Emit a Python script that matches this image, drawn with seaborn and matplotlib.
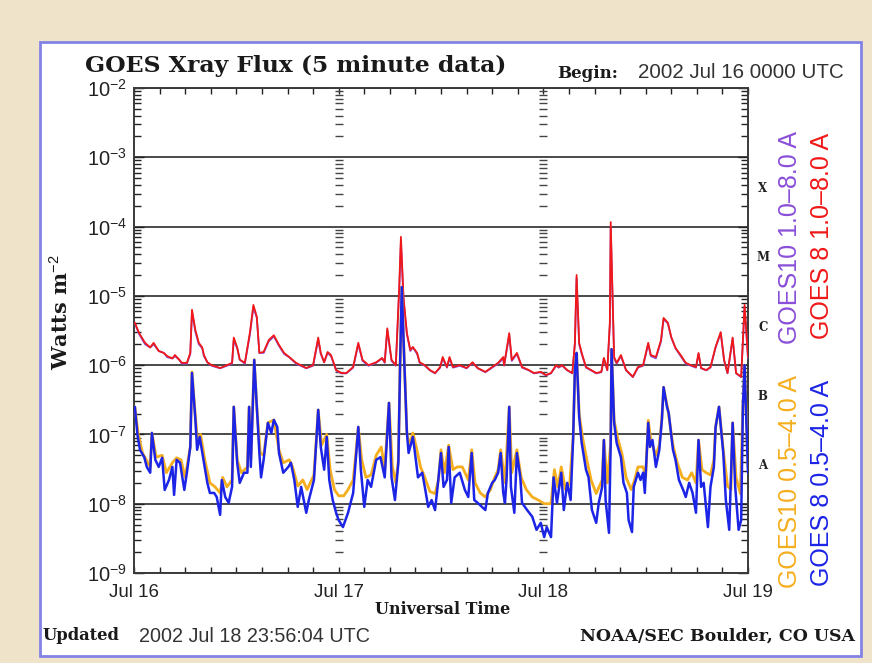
import numpy as np
import pandas as pd
import matplotlib
matplotlib.use("Agg")
import matplotlib.pyplot as plt
import matplotlib.ticker as mticker
import matplotlib.transforms as mtrans
from matplotlib.patches import Rectangle
import seaborn as sns

# ---------------- data (hours since 2002 Jul 16 00 UT, flux in W m^-2) ----------------
long_hours = [
    0.1, 0.6, 1.3, 1.9, 2.3, 2.9, 3.5, 3.9, 4.5, 4.8,
    5.3, 5.6, 6.2, 6.6, 6.8, 7.2, 7.6, 8.0, 8.2, 8.6,
    9.1, 10.1, 10.9, 11.5, 11.7, 12.1, 12.4, 13.0, 13.6, 14.0,
    14.4, 14.7, 15.2, 15.8, 16.4, 17.0, 17.6, 18.2, 19.0, 20.2,
    21.0, 21.6, 21.9, 22.3, 22.7, 23.1, 23.7, 24.3, 24.9, 25.7,
    26.3, 26.8, 27.5, 28.4, 29.1, 29.4, 29.7, 30.2, 30.7, 31.1,
    31.3, 31.6, 32.0, 32.4, 32.7, 33.2, 33.5, 34.1, 34.7, 35.3,
    35.9, 36.2, 36.7, 37.0, 37.4, 38.2, 39.0, 39.7, 40.3, 41.2,
    42.0, 42.7, 43.3, 43.4, 44.0, 44.3, 44.9, 45.5, 46.3, 46.9,
    47.7, 48.3, 48.9, 49.5, 49.8, 50.2, 50.8, 51.4, 51.7, 51.9,
    52.2, 52.5, 53.0, 53.6, 54.2, 54.8, 55.1, 55.5, 55.8, 55.9,
    56.3, 56.6, 57.1, 57.7, 58.5, 59.1, 59.7, 60.3, 60.6, 61.2,
    61.8, 62.1, 62.6, 63.0, 63.5, 64.1, 64.7, 65.3, 65.9, 66.2,
    66.5, 67.1, 67.6, 68.2, 68.8, 69.2, 69.6, 70.2, 70.6, 71.2,
    71.6, 72.0,
]
goes8_long = [
    4.1e-6, 2.9e-6, 2.1e-6, 1.8e-6, 2.1e-6, 1.6e-6, 1.5e-6, 1.35e-6, 1.25e-6, 1.4e-6,
    1.2e-6, 1.08e-6, 1.08e-6, 1.5e-6, 6.3e-6, 3.2e-6, 2.1e-6, 1.8e-6, 1.4e-6, 1.1e-6,
    1.0e-6, 9.1e-7, 1.0e-6, 1.08e-6, 2.5e-6, 1.8e-6, 1.2e-6, 1.08e-6, 3.0e-6, 7.4e-6,
    5.0e-6, 1.5e-6, 1.55e-6, 2.3e-6, 2.7e-6, 1.96e-6, 1.5e-6, 1.31e-6, 1.08e-6, 9.1e-7,
    1.0e-6, 2.5e-6, 1.5e-6, 1.1e-6, 1.55e-6, 1.4e-6, 8.5e-7, 7.7e-7, 7.7e-7, 9.4e-7,
    2.1e-6, 1.19e-6, 1.0e-6, 1.1e-6, 1.27e-6, 1.1e-6, 3.4e-6, 1.19e-6, 1.0e-6, 1.34e-5,
    7.1e-5, 9.6e-6, 2.9e-6, 1.66e-6, 1.83e-6, 1.5e-6, 1.1e-6, 1.0e-6, 8.5e-7, 7.7e-7,
    9.4e-7, 1.31e-6, 9.4e-7, 1.31e-6, 9.4e-7, 1.0e-6, 9.1e-7, 1.1e-6, 9.1e-7, 8.0e-7,
    9.4e-7, 1.08e-6, 1.31e-6, 1.0e-6, 2.9e-6, 1.19e-6, 1.5e-6, 9.4e-7, 8.5e-7, 7.7e-7,
    8.0e-7, 7.2e-7, 7.7e-7, 1.0e-6, 9.4e-7, 1.0e-6, 8.5e-7, 7.7e-7, 2.1e-6, 2.0e-5,
    2.1e-6, 1.5e-6, 9.4e-7, 8.5e-7, 7.7e-7, 8.0e-7, 1.27e-6, 8.5e-7, 4.1e-6, 1.16e-4,
    1.31e-6, 1.08e-6, 1.4e-6, 8.5e-7, 6.8e-7, 9.4e-7, 1.0e-6, 2.1e-6, 1.4e-6, 1.31e-6,
    2.3e-6, 4.8e-6, 4.1e-6, 2.55e-6, 1.77e-6, 1.4e-6, 1.08e-6, 1.0e-6, 9.4e-7, 1.5e-6,
    9.1e-7, 8.5e-7, 9.4e-7, 1.83e-6, 3.0e-6, 1.19e-6, 7.7e-7, 2.5e-6, 7.7e-7, 6.8e-7,
    7.4e-6, 1.31e-6,
]
goes10_long = [
    4.0e-6, 2.8e-6, 2.0e-6, 1.8e-6, 2.0e-6, 1.6e-6, 1.5e-6, 1.3e-6, 1.25e-6, 1.35e-6,
    1.2e-6, 1.05e-6, 1.05e-6, 1.45e-6, 5.8e-6, 3.0e-6, 2.0e-6, 1.75e-6, 1.35e-6, 1.1e-6,
    9.8e-7, 9.0e-7, 9.8e-7, 1.05e-6, 2.3e-6, 1.75e-6, 1.2e-6, 1.05e-6, 2.8e-6, 6.8e-6,
    4.8e-6, 1.5e-6, 1.5e-6, 2.2e-6, 2.6e-6, 1.9e-6, 1.45e-6, 1.3e-6, 1.05e-6, 9.0e-7,
    9.8e-7, 2.3e-6, 1.45e-6, 1.1e-6, 1.5e-6, 1.35e-6, 8.4e-7, 7.6e-7, 7.6e-7, 9.2e-7,
    2.0e-6, 1.15e-6, 9.8e-7, 1.08e-6, 1.25e-6, 1.08e-6, 3.2e-6, 1.15e-6, 9.8e-7, 1.2e-5,
    6.0e-5, 9.0e-6, 2.8e-6, 1.6e-6, 1.8e-6, 1.45e-6, 1.08e-6, 9.8e-7, 8.4e-7, 7.6e-7,
    9.2e-7, 1.25e-6, 9.2e-7, 1.25e-6, 9.2e-7, 9.8e-7, 9.0e-7, 1.08e-6, 9.0e-7, 7.9e-7,
    9.2e-7, 1.05e-6, 1.25e-6, 9.8e-7, 2.7e-6, 1.15e-6, 1.45e-6, 9.2e-7, 8.4e-7, 7.6e-7,
    7.9e-7, 7.1e-7, 7.6e-7, 9.8e-7, 9.2e-7, 9.8e-7, 8.4e-7, 7.6e-7, 2.0e-6, 1.8e-5,
    2.0e-6, 1.45e-6, 9.2e-7, 8.4e-7, 7.6e-7, 7.9e-7, 1.25e-6, 8.4e-7, 3.8e-6, 1.0e-4,
    1.25e-6, 1.05e-6, 1.35e-6, 8.4e-7, 6.7e-7, 9.2e-7, 9.8e-7, 2.0e-6, 1.35e-6, 1.25e-6,
    2.2e-6, 4.6e-6, 4.0e-6, 2.5e-6, 1.75e-6, 1.35e-6, 1.05e-6, 9.8e-7, 9.2e-7, 1.45e-6,
    9.0e-7, 8.4e-7, 9.2e-7, 1.8e-6, 2.9e-6, 1.15e-6, 7.6e-7, 2.4e-6, 7.6e-7, 6.7e-7,
    7.0e-6, 1.25e-6,
]

goes8_short_hours = [
    0.1, 0.4, 0.7, 1.2, 1.5, 1.9, 2.1, 2.5, 2.9, 3.3,
    3.6, 4.1, 4.5, 4.7, 5.0, 5.4, 5.9, 6.2, 6.6, 6.8,
    7.2, 7.4, 7.7, 8.2, 8.6, 8.9, 9.4, 9.7, 10.1, 10.3,
    10.7, 11.1, 11.5, 11.7, 12.1, 12.4, 12.9, 13.3, 13.5, 13.7,
    14.1, 14.4, 14.7, 14.9, 15.2, 15.7, 16.1, 16.4, 16.8, 17.0,
    17.5, 18.1, 18.4, 18.8, 19.2, 19.6, 20.2, 20.5, 21.1, 21.6,
    21.9, 22.3, 22.6, 22.9, 23.3, 23.7, 24.0, 24.5, 25.1, 25.7,
    26.0, 26.3, 26.6, 27.0, 27.4, 27.8, 28.4, 28.9, 29.4, 29.9,
    30.2, 30.6, 31.0, 31.2, 31.4, 31.7, 32.0, 32.2, 32.7, 32.9,
    33.3, 33.8, 34.1, 34.5, 34.9, 35.3, 35.6, 36.0, 36.3, 36.7,
    36.9, 37.2, 37.6, 38.2, 38.8, 39.2, 39.6, 39.9, 40.3, 40.8,
    41.2, 41.5, 42.0, 42.3, 42.7, 43.0, 43.3, 43.5, 43.7, 44.0,
    44.2, 44.6, 44.9, 45.3, 45.5, 46.1, 46.7, 47.2, 47.7, 48.1,
    48.4, 48.9, 49.2, 49.6, 50.1, 50.4, 50.8, 51.2, 51.5, 51.7,
    51.9, 52.2, 52.5, 53.0, 53.3, 53.7, 54.2, 54.5, 54.9, 55.1,
    55.3, 55.7, 55.9, 56.0, 56.3, 56.6, 57.1, 57.4, 57.8, 58.0,
    58.4, 58.6, 59.1, 59.4, 59.7, 59.9, 60.3, 60.5, 60.8, 61.2,
    61.6, 61.9, 62.1, 62.5, 62.7, 63.2, 63.5, 63.9, 64.4, 64.7,
    65.1, 65.5, 65.9, 66.2, 66.5, 66.8, 67.3, 67.6, 68.0, 68.2,
    68.6, 69.1, 69.4, 69.8, 70.2, 70.5, 70.9, 71.2, 71.4, 71.6,
    72.0,
]
goes8_short = [
    2.5e-7, 1.0e-7, 6.0e-8, 4.7e-8, 3.4e-8, 2.8e-8, 1.05e-7, 4.3e-8, 3.4e-8, 4.6e-8,
    1.58e-8, 2.2e-8, 3.4e-8, 1.34e-8, 4.3e-8, 3.9e-8, 1.58e-8, 2.8e-8, 6.6e-8, 7.7e-7,
    1.62e-7, 6.0e-8, 9.2e-8, 3.9e-8, 2.0e-8, 1.43e-8, 1.43e-8, 1.25e-8, 6.9e-9, 2.2e-8,
    1.25e-8, 1.03e-8, 1.75e-8, 2.5e-7, 3.9e-8, 2.0e-8, 2.8e-8, 2.8e-8, 2.5e-7, 3.4e-8,
    1.19e-6, 2.5e-7, 5.4e-8, 2.4e-8, 4.3e-8, 1.47e-7, 1.05e-7, 1.62e-7, 1.28e-7, 5.4e-8,
    2.8e-8, 3.4e-8, 3.9e-8, 2.2e-8, 9.0e-9, 1.75e-8, 7.4e-9, 1.13e-8, 2.2e-8, 2.26e-7,
    6.6e-8, 3.1e-8, 9.2e-8, 2.2e-8, 1.13e-8, 7.4e-9, 5.8e-9, 4.6e-9, 7.4e-9, 1.43e-8,
    4.3e-8, 1.28e-7, 3.1e-8, 9.0e-9, 2.2e-8, 1.75e-8, 4.3e-8, 4.7e-8, 2.4e-8, 2.85e-7,
    2.4e-8, 1.13e-8, 3.9e-8, 1.0e-6, 1.34e-5, 1.08e-6, 1.05e-7, 5.4e-8, 9.2e-8, 6.0e-8,
    2.4e-8, 2.8e-8, 1.75e-8, 9.0e-9, 1.13e-8, 8.1e-9, 1.75e-8, 5.4e-8, 1.75e-8, 2.2e-8,
    6.6e-8, 1.03e-8, 2.4e-8, 2.8e-8, 1.58e-8, 1.25e-8, 5.4e-8, 1.13e-8, 1.03e-8, 9.0e-9,
    8.1e-9, 1.43e-8, 2.0e-8, 2.2e-8, 2.8e-8, 5.4e-8, 1.43e-8, 1.03e-8, 2.4e-8, 2.5e-7,
    1.75e-8, 7.4e-9, 5.4e-8, 2.4e-8, 1.03e-8, 8.1e-9, 6.5e-9, 4.2e-9, 5.3e-9, 3.3e-9,
    4.6e-9, 3.3e-9, 2.4e-8, 1.03e-8, 2.8e-8, 8.1e-9, 2.0e-8, 1.13e-8, 9.2e-8, 8.5e-7,
    1.5e-6, 1.79e-7, 7.5e-8, 3.1e-8, 2.4e-8, 8.1e-9, 5.3e-9, 1.03e-8, 1.75e-8, 8.3e-8,
    1.13e-8, 3.8e-9, 7.5e-8, 1.7e-6, 1.47e-7, 7.5e-8, 4.7e-8, 2.0e-8, 1.43e-8, 5.8e-9,
    3.9e-9, 1.75e-8, 2.8e-8, 2.2e-8, 2.8e-8, 1.43e-8, 1.47e-7, 6.6e-8, 8.3e-8, 3.4e-8,
    6.0e-8, 1.62e-7, 4.8e-7, 2.5e-7, 2.04e-7, 6.0e-8, 4.3e-8, 2.2e-8, 1.58e-8, 1.25e-8,
    2.0e-8, 1.43e-8, 7.4e-9, 8.3e-8, 1.75e-8, 2.0e-8, 4.6e-9, 1.75e-8, 3.4e-8, 1.28e-7,
    2.5e-7, 5.4e-8, 1.13e-8, 4.2e-9, 1.47e-7, 1.75e-8, 4.2e-9, 5.8e-9, 2.5e-7, 1.0e-6,
    2.8e-8,
]

goes10_short_hours = [
    0.1, 0.5, 1.0, 1.9, 2.1, 2.6, 3.3, 3.8, 4.5, 5.0,
    5.5, 6.0, 6.6, 6.8, 7.2, 7.5, 7.8, 8.3, 8.9, 9.5,
    10.1, 10.4, 10.9, 11.5, 11.7, 12.1, 12.6, 13.3, 13.5, 13.7,
    14.1, 14.4, 14.8, 15.2, 15.7, 16.4, 17.0, 17.5, 18.2, 18.6,
    19.2, 19.8, 20.3, 21.1, 21.6, 22.0, 22.6, 23.0, 23.5, 24.0,
    24.6, 25.1, 25.7, 26.0, 26.3, 26.7, 27.2, 27.8, 28.4, 29.0,
    29.4, 29.9, 30.3, 30.7, 31.0, 31.2, 31.4, 31.7, 32.0, 32.3,
    32.7, 33.1, 33.6, 34.1, 34.7, 35.3, 35.7, 36.0, 36.4, 36.9,
    37.4, 37.9, 38.5, 39.2, 39.6, 40.0, 40.6, 41.2, 41.8, 42.3,
    42.7, 43.0, 43.5, 44.0, 44.3, 44.9, 45.4, 46.0, 46.7, 47.4,
    48.1, 48.9, 49.3, 49.7, 50.1, 50.6, 51.1, 51.5, 51.7, 51.9,
    52.2, 52.6, 53.1, 53.6, 54.2, 54.9, 55.1, 55.5, 55.9, 56.0,
    56.3, 56.7, 57.2, 57.7, 58.3, 58.7, 59.1, 59.7, 60.0, 60.3,
    60.6, 61.2, 61.6, 61.9, 62.1, 62.6, 63.2, 63.7, 64.3, 64.9,
    65.4, 65.9, 66.2, 66.6, 67.1, 67.6, 68.0, 68.2, 68.6, 69.1,
    69.6, 70.0, 70.2, 70.6, 71.1, 71.4, 71.6, 72.0,
]
goes10_short = [
    2.5e-7, 1.0e-7, 5.4e-8, 3.4e-8, 1.05e-7, 4.7e-8, 5.0e-8, 2.8e-8, 3.9e-8, 4.6e-8,
    4.3e-8, 2.4e-8, 6.6e-8, 8.0e-7, 1.8e-7, 7.0e-8, 1.0e-7, 4.3e-8, 2.0e-8, 1.75e-8,
    1.43e-8, 2.4e-8, 1.75e-8, 2.2e-8, 2.5e-7, 4.3e-8, 2.8e-8, 3.4e-8, 2.5e-7, 4.3e-8,
    1.2e-6, 2.5e-7, 5.4e-8, 5.0e-8, 1.47e-7, 1.62e-7, 6.0e-8, 3.9e-8, 4.3e-8, 3.4e-8,
    1.8e-8, 2.2e-8, 1.6e-8, 2.6e-8, 2.26e-7, 7.0e-8, 1.0e-7, 3.1e-8, 1.6e-8, 1.3e-8,
    1.3e-8, 1.6e-8, 2.2e-8, 5.0e-8, 1.28e-7, 4.3e-8, 2.4e-8, 2.6e-8, 5.0e-8, 6.6e-8,
    3.1e-8, 2.85e-7, 3.4e-8, 2.0e-8, 4.3e-8, 1.0e-6, 1.34e-5, 1.1e-6, 1.05e-7, 7.0e-8,
    1.05e-7, 6.6e-8, 3.4e-8, 2.4e-8, 1.5e-8, 1.4e-8, 2.2e-8, 6.0e-8, 2.8e-8, 7.0e-8,
    3.1e-8, 3.4e-8, 3.4e-8, 2.2e-8, 6.0e-8, 2.0e-8, 1.43e-8, 1.25e-8, 1.6e-8, 2.4e-8,
    3.1e-8, 6.0e-8, 2.0e-8, 2.5e-7, 2.8e-8, 6.0e-8, 2.4e-8, 1.6e-8, 1.25e-8, 1.13e-8,
    1.0e-8, 1.0e-8, 3.1e-8, 1.75e-8, 3.4e-8, 1.6e-8, 2.0e-8, 9.2e-8, 8.5e-7, 1.5e-6,
    2.0e-7, 9.0e-8, 4.3e-8, 2.2e-8, 1.4e-8, 2.2e-8, 8.3e-8, 2.0e-8, 7.5e-8, 1.7e-6,
    1.6e-7, 9.0e-8, 5.4e-8, 2.4e-8, 1.6e-8, 2.2e-8, 3.4e-8, 3.4e-8, 2.4e-8, 1.6e-7,
    8.3e-8, 5.0e-8, 7.0e-8, 1.7e-7, 4.8e-7, 2.3e-7, 7.0e-8, 3.9e-8, 2.4e-8, 2.2e-8,
    2.8e-8, 2.0e-8, 8.3e-8, 3.1e-8, 2.8e-8, 2.6e-8, 4.3e-8, 1.28e-7, 2.5e-7, 6.0e-8,
    1.8e-8, 1.6e-8, 1.47e-7, 2.4e-8, 1.4e-8, 2.5e-7, 1.0e-6, 3.4e-8,
]

day_ticks = [0, 24, 48, 72]
day_labels = ["Jul 16", "Jul 17", "Jul 18", "Jul 19"]
flare_classes = ["A", "B", "C", "M", "X"]
legend_long = ["GOES10 1.0\u20138.0 A", "GOES 8 1.0\u20138.0 A"]
legend_short = ["GOES10 0.5\u20134.0 A", "GOES 8 0.5\u20134.0 A"]

# ---------------- styling ----------------
W, H = 872, 663
sns.set_theme(style="white")
plt.rcParams["font.family"] = ["Liberation Sans", "DejaVu Sans"]
plt.rcParams["mathtext.fontset"] = "custom"
plt.rcParams["mathtext.rm"] = "Liberation Sans"
plt.rcParams["mathtext.bf"] = "Liberation Sans:bold"

C_RED = "#f01818"
C_PURPLE = "#8a4fd8"
C_ORANGE = "#f5ae1e"
C_BLUE = "#1c24e6"
PARCH = "#efe3c9"
SERIF = ["DejaVu Serif"]

fig = plt.figure(figsize=(W / 100, H / 100), dpi=100, facecolor=PARCH)

def fx(px):
    return px / W

def fy(py):
    return 1 - py / H

# white panel with blue border (behind the axes)
fig.patches.append(Rectangle((fx(40), fy(656)), fx(861) - fx(40), fy(42) - fy(656),
                             transform=fig.transFigure, facecolor="white",
                             edgecolor="#8383e6", linewidth=2.0, zorder=-10))

ax = fig.add_axes([fx(134), fy(573), fx(748) - fx(134), fy(88) - fy(573)])
ax.set_zorder(5)
ax.set_facecolor("white")
ax.set_yscale("log")

df_long8 = pd.DataFrame({"hour": long_hours, "flux": goes8_long})
df_long10 = pd.DataFrame({"hour": long_hours, "flux": goes10_long})
df_short8 = pd.DataFrame({"hour": goes8_short_hours, "flux": goes8_short})
df_short10 = pd.DataFrame({"hour": goes10_short_hours, "flux": goes10_short})

kw = dict(x="hour", y="flux", ax=ax, estimator=None, sort=False, legend=False)
sns.lineplot(data=df_long10, color=C_PURPLE, linewidth=1.3, zorder=3, **kw)
sns.lineplot(data=df_long8, color=C_RED, linewidth=1.3, zorder=4, **kw)
sns.lineplot(data=df_short10, color=C_ORANGE, linewidth=2.0, zorder=5, **kw)
sns.lineplot(data=df_short8, color=C_BLUE, linewidth=1.8, zorder=6, **kw)

ax.set_yscale("log")
ax.set_xlim(0, 72)
ax.set_ylim(1e-9, 1e-2)

# gridlines at decades
ax.yaxis.set_major_locator(mticker.LogLocator(base=10, numticks=20))
ax.yaxis.set_minor_locator(mticker.LogLocator(base=10, subs=np.arange(2, 10), numticks=20))
ax.yaxis.set_minor_formatter(mticker.NullFormatter())
ax.yaxis.grid(True, which="major", color="#4a4a4a", linewidth=1.4, zorder=1)
ax.xaxis.grid(False)

# x axis
ax.set_xticks(day_ticks)
ax.set_xticklabels(day_labels)
ax.xaxis.set_minor_locator(mticker.MultipleLocator(3))
ax.tick_params(axis="x", which="both", direction="in", top=True, bottom=True,
               length=4, width=1.0, color="#222222", labelsize=13.5, pad=8)
ax.tick_params(axis="y", which="major", direction="in", left=True, right=True,
               length=7, width=1.0, color="#222222", labelsize=14.5, pad=5)
ax.tick_params(axis="y", which="minor", direction="in", left=True, right=True,
               length=5, width=1.0, color="#222222")
for lab in ax.get_xticklabels() + ax.get_yticklabels():
    lab.set_color("#222222")

# dashed day separators made of minor-tick marks
for day in day_ticks[1:3]:
    ys = [m * 10.0 ** d for d in range(-9, -2) for m in range(2, 10)]
    ax.plot([day] * len(ys), ys, linestyle="none", marker="_", markersize=5.5,
            markeredgewidth=1.0, color="#444444", zorder=2)

for s in ax.spines.values():
    s.set_color("#3a3a3a")
    s.set_linewidth(1.4)
ax.set_xlabel("")
ax.set_ylabel("")

# flare class letters on right
tr = mtrans.blended_transform_factory(ax.transAxes, ax.transData)
for i, cls in enumerate(flare_classes):
    ax.text(1.024, 10.0 ** (-8 + i + 0.55), cls, transform=tr, ha="center", va="center",
            fontsize=8.5, fontweight="bold", family=SERIF, color="#222222")

# rotated legends on the right
fig.text(fx(790), fy(237), legend_long[0], rotation=90, ha="center", va="center",
         fontsize=18, color=C_PURPLE)
fig.text(fx(822), fy(236), legend_long[1], rotation=90, ha="center", va="center",
         fontsize=18, color=C_RED)
fig.text(fx(790), fy(481), legend_short[0], rotation=90, ha="center", va="center",
         fontsize=18, color=C_ORANGE)
fig.text(fx(822), fy(483), legend_short[1], rotation=90, ha="center", va="center",
         fontsize=18, color=C_BLUE)

# titles and annotations
fig.text(fx(85), fy(66), "GOES Xray Flux (5 minute data)", ha="left", va="center",
         fontsize=16.9, fontweight="bold", family=SERIF, color="#1a1a1a")
fig.text(fx(557), fy(73), "Begin:", ha="left", va="center", fontsize=12,
         fontweight="bold", family=SERIF, color="#1a1a1a")
fig.text(fx(638), fy(73), "2002 Jul 16 0000 UTC", ha="left", va="center",
         fontsize=14.8, color="#333333")
fig.text(fx(60), fy(312), "Watts m$^{-2}$", rotation=90, ha="center", va="center",
         fontsize=15, fontweight="bold", family=SERIF, color="#1a1a1a")
fig.text(fx(443), fy(610), "Universal Time", ha="center", va="center",
         fontsize=11.5, fontweight="bold", family=SERIF, color="#1a1a1a")
fig.text(fx(42), fy(636), "Updated", ha="left", va="center", fontsize=11.8,
         fontweight="bold", family=SERIF, color="#1a1a1a")
fig.text(fx(139), fy(636), "2002 Jul 18 23:56:04 UTC", ha="left", va="center",
         fontsize=14.2, color="#333333")
fig.text(fx(855), fy(636), "NOAA/SEC Boulder, CO USA", ha="right", va="center",
         fontsize=12.5, fontweight="bold", family=SERIF, color="#1a1a1a")

fig.savefig("out.png", dpi=100, facecolor=PARCH)
